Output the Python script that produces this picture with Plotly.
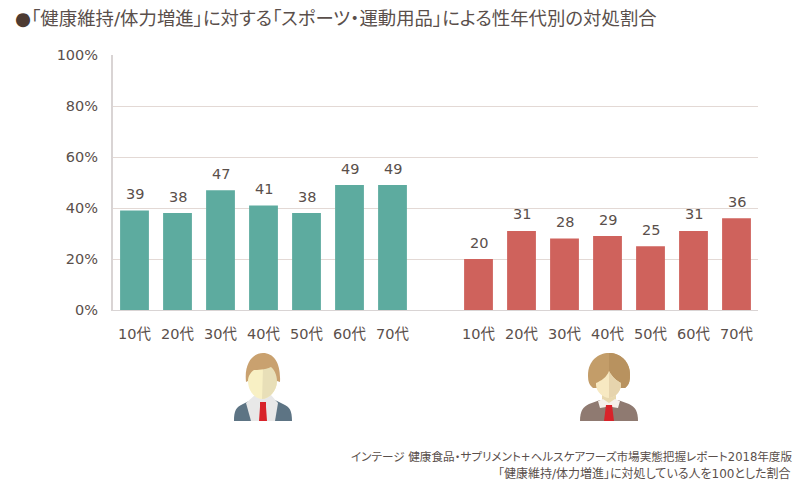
import plotly.graph_objects as go

W, H = 800, 488
FONT = "DejaVu Sans, Noto Sans CJK JP, sans-serif"
TEXT = "#5a4f4b"

age_labels = ["10代", "20代", "30代", "40代", "50代", "60代", "70代"]
male_values = [39, 38, 47, 41, 38, 49, 49]
female_values = [20, 31, 28, 29, 25, 31, 36]
y_ticks = [0, 20, 40, 60, 80, 100]
y_tick_labels = ["0%", "20%", "40%", "60%", "80%", "100%"]

title_text = "<span style=\"color:#4d3b33\">●</span>「健康維持/体力増進」に対する「スポーツ・運動用品」による性年代別の対処割合"
source_lines = [
    "インテージ 健康食品・サプリメント+ヘルスケアフーズ市場実態把握レポート2018年度版",
    "「健康維持/体力増進」に対処している人を100とした割合",
]

male_x = list(range(7))
female_x = list(range(8, 15))

# Plot area in pixels
PL, PR, PT, PB = 113, 758, 55, 310


def px(x):
    return (x - PL) / (PR - PL)


def py(y):
    return (PB - y) / (PB - PT)


def icon_shape(points, fill, ox, oy):
    """Closed path given in icon-local pixels, anchored at (ox, oy)."""
    parts = []
    for cmd in points:
        letter, coords = cmd[0], cmd[1:]
        mapped = []
        for i in range(0, len(coords), 2):
            mapped.append(f"{px(ox + coords[i]):.5f},{py(oy + coords[i + 1]):.5f}")
        parts.append(letter + " " + " ".join(mapped))
    return dict(type="path", xref="paper", yref="paper", path=" ".join(parts) + " Z",
                fillcolor=fill, line=dict(width=0), layer="above")


def male_icon(ox, oy):
    return [
        icon_shape([("M", -29, 76), ("C", -29, 66, -27, 62, -20, 59), ("L", -12, 55), ("L", 12, 55), ("L", 20, 59),
                    ("C", 27, 62, 29, 66, 29, 76)], "#5d7484", ox, oy),
        icon_shape([("M", -17, 58), ("L", -8, 50), ("L", 8, 50), ("L", 15, 58), ("L", 12, 76), ("L", -12, 76)], "#e8e8e8", ox, oy),
        icon_shape([("M", -3, 57), ("L", 3, 57), ("L", 3, 62), ("L", 4, 76), ("L", -4, 76), ("L", -3, 62)], "#d8232a", ox, oy),
        icon_shape([("M", -15, 22), ("L", 14, 22), ("L", 14, 36), ("C", 14, 46, 6, 54, -1, 54),
                    ("C", -8, 54, -15, 46, -15, 36)], "#f8f0c4", ox, oy),
        icon_shape([("M", 0, 22), ("L", 14, 22), ("L", 14, 36), ("C", 14, 46, 6, 54, -1, 54)], "#e8dfb8", ox, oy),
        icon_shape([("M", -17, 37), ("C", -19, 18, -10, 8, 0, 8), ("C", 11, 8, 18, 18, 17, 37),
                    ("L", 14, 36), ("C", 14, 30, 11, 24, 8, 22), ("C", 2, 25, -6, 25, -9, 25),
                    ("C", -12, 27, -15, 31, -15, 36)], "#c9a16f", ox, oy),
    ]


def female_icon(ox, oy):
    return [
        icon_shape([("M", -21, 30), ("C", -21, 16, -11, 8, 0, 8), ("C", 11, 8, 21, 16, 21, 30),
                    ("C", 21, 36, 20, 40, 16, 43), ("L", -16, 43), ("C", -20, 40, -21, 36, -21, 30)], "#c39d69", ox, oy),
        icon_shape([("M", 0, 8), ("C", 11, 8, 21, 16, 21, 30), ("C", 21, 36, 20, 40, 16, 43), ("L", 0, 43)], "#b8925f", ox, oy),
        icon_shape([("M", -29, 76), ("C", -29, 66, -26, 62, -20, 59), ("L", -9, 55), ("L", 9, 55), ("L", 20, 59),
                    ("C", 26, 62, 29, 66, 29, 76)], "#8f7a71", ox, oy),
        icon_shape([("M", -7, 44), ("L", 7, 44), ("L", 7, 58), ("L", -7, 58)], "#e8d8ae", ox, oy),
        icon_shape([("M", -11, 56), ("L", -6, 54), ("L", 0, 58), ("L", 6, 54), ("L", 11, 56), ("L", 9, 63), ("L", 3, 62), ("L", -3, 62), ("L", -9, 63)], "#f5f0ea", ox, oy),
        icon_shape([("M", -3, 60), ("L", 3, 60), ("L", 5, 76), ("L", -5, 76)], "#d8232a", ox, oy),
        icon_shape([("M", -13, 38), ("C", -8, 36, -2, 32, 0, 26), ("C", 3, 32, 8, 36, 12, 38), ("L", 12, 40),
                    ("C", 12, 47, 5, 53, 0, 53), ("C", -5, 53, -13, 47, -13, 40)], "#f7e9c2", ox, oy),
        icon_shape([("M", 0, 26), ("C", 3, 32, 8, 36, 12, 38), ("L", 12, 40), ("C", 12, 47, 5, 53, 0, 53)], "#e6d4ad", ox, oy),
    ]


fig = go.Figure()
fig.add_bar(x=male_x, y=male_values, marker_color="#5dab9f", marker_line_width=0, width=0.67)
fig.add_bar(x=female_x, y=female_values, marker_color="#cf625c", marker_line_width=0, width=0.67)

# Value labels sit a fixed distance above each bar
value_labels = [
    dict(x=x, y=v, yref="y", xref="x", yshift=6.5, yanchor="bottom", text=str(v), showarrow=False,
         font=dict(family=FONT, size=14.5, color=TEXT))
    for x, v in zip(male_x + female_x, male_values + female_values)
]

# Long texts are centre-anchored: their ink stays centred once proportional spacing applies
annotations = value_labels + [
    dict(xref="paper", yref="paper", x=px(335.5), y=py(18), xanchor="center", yanchor="middle",
         text=title_text, showarrow=False, font=dict(family=FONT, size=18.4, color=TEXT)),
    dict(xref="paper", yref="paper", x=px(571), y=py(457), xanchor="center", yanchor="middle",
         text=source_lines[0], showarrow=False, font=dict(family=FONT, size=11.6, color=TEXT)),
    dict(xref="paper", yref="paper", x=px(644.5), y=py(473), xanchor="center", yanchor="middle",
         text=source_lines[1], showarrow=False, font=dict(family=FONT, size=12, color=TEXT)),
]

fig.update_layout(
    width=W, height=H, autosize=False,
    margin=dict(l=PL, r=W - PR, t=PT, b=H - PB, pad=0),
    paper_bgcolor="white", plot_bgcolor="white",
    showlegend=False, barmode="overlay",
    annotations=annotations,
    shapes=male_icon(263, 345) + female_icon(609, 345),
    xaxis=dict(range=[-0.5, 14.5], tickmode="array",
               tickvals=male_x + female_x, ticktext=age_labels + age_labels,
               showgrid=False, zeroline=False, showline=True, linecolor="#d9d4d4", linewidth=1,
               ticks="", ticklen=0, tickangle=0, ticklabelstandoff=11,
               tickfont=dict(family=FONT, size=14.5, color=TEXT)),
    yaxis=dict(range=[0, 100], tickmode="array", tickvals=y_ticks, ticktext=y_tick_labels,
               showgrid=True, gridcolor="#e3d9d5", gridwidth=1, zeroline=False,
               showline=True, linecolor="#d9d4d4", linewidth=2, ticks="", ticklabelstandoff=10,
               tickfont=dict(family=FONT, size=14.5, color=TEXT)),
)

# Proportional kana and punctuation for all chart text
PROPORTIONAL_TEXT = """
var style = document.createElement('style');
style.textContent = 'svg text { font-feature-settings: "palt"; }';
document.head.appendChild(style);
"""

fig.write_html("out.html", config=dict(displayModeBar=False), post_script=PROPORTIONAL_TEXT)
